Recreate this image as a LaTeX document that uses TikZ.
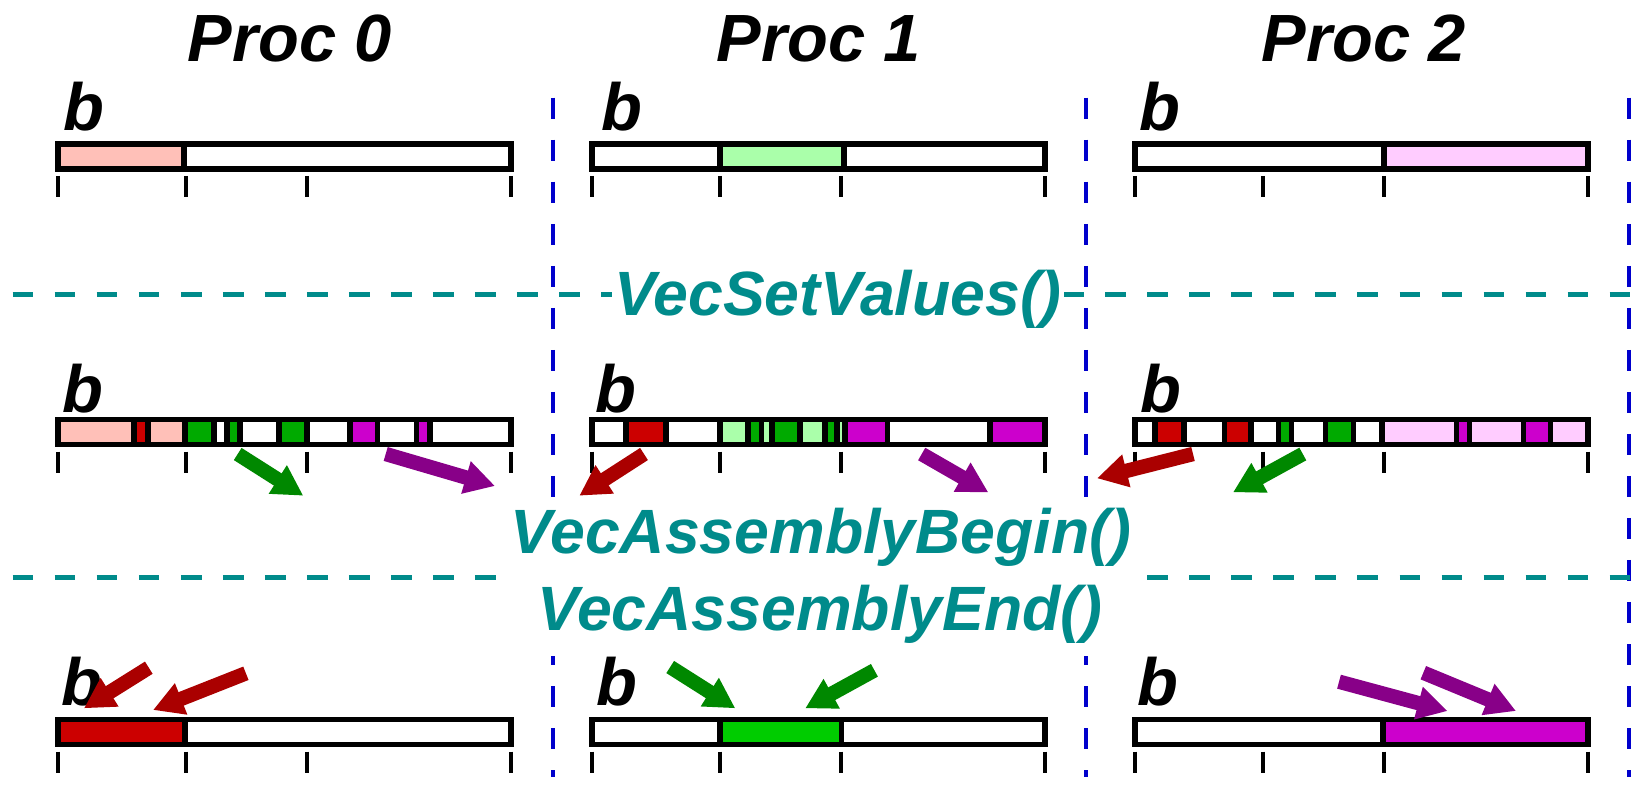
\documentclass[tikz,border=0pt]{standalone}
\usepackage{fontspec}
\setmainfont{Liberation Sans}
\usetikzlibrary{arrows.meta}
\definecolor{pinkC}{HTML}{FFC0B8}
\definecolor{lgreenC}{HTML}{AAFFAA}
\definecolor{lmagC}{HTML}{FFCCFF}
\definecolor{redC}{HTML}{CC0000}
\definecolor{greenC}{HTML}{00AA00}
\definecolor{bgreenC}{HTML}{00CC00}
\definecolor{magC}{HTML}{CC00CC}
\definecolor{redA}{HTML}{AA0000}
\definecolor{greenA}{HTML}{008800}
\definecolor{purpleA}{HTML}{880088}
\definecolor{blueC}{HTML}{0000CC}
\definecolor{tealC}{HTML}{008B8B}
\tikzset{
  cellbox/.style={draw=black, line width=1.5pt, line join=miter},
  tickmark/.style={draw=black, line width=1.2pt},
  blueline/.style={draw=blueC, line width=1.35pt, dash pattern=on 5.975pt off 5.975pt},
  tealline/.style={draw=tealC, line width=1.42pt, dash pattern=on 5.89pt off 6.06pt},
  blk/.style={line width=4.1pt, -{Triangle[length=8.6pt,width=9pt]}},
  redarrow/.style={blk, draw=redA, fill=redA},
  greenarrow/.style={blk, draw=greenA, fill=greenA},
  purplearrow/.style={blk, draw=purpleA, fill=purpleA},
  title/.style={anchor=base, inner sep=0pt, font=\fontsize{19}{22}\selectfont\bfseries\itshape},
  blabel/.style={anchor=base west, inner sep=0pt, font=\fontsize{19}{22}\selectfont\bfseries\itshape},
  calltext/.style={anchor=base, inner xsep=0.5pt, inner ysep=0pt, fill=white, text=tealC,
    font=\fontsize{17.8}{21}\selectfont\bfseries\itshape},
}
\newcommand\vecbar[3]{%
  \foreach \a/\b/\c in {#3}{\draw[cellbox,fill=\c] ({#1+\a},#2) rectangle ({#1+\b},{#2+25});}%
  \foreach \t in {0,128,249,453}{\draw[tickmark] ({#1+\t},{#2+32}) -- ({#1+\t},{#2+53});}%
}
\begin{document}
\begin{tikzpicture}[x=0.01cm,y=-0.01cm]
\useasboundingbox (0,0) rectangle (1637,785);
% separators
\foreach \xx in {553,1086,1629}{\draw[blueline] (\xx,97.7) -- (\xx,777);}
\draw[tealline] (12.7,294.5) -- (1637,294.5);
\draw[tealline] (12.7,577) -- (1637,577);
% call texts
\node[calltext] (vs) at (838,315) {VecSetValues()};
\node[calltext, text height=14pt, text depth=9pt] (vab) at (821,553) {VecAssemblyBegin()};
\node[calltext, text height=13pt, text depth=7.5pt] (vae) at (820,630) {VecAssemblyEnd()};
% titles
\node[title] (t0) at (290,62) {Proc 0};
\node[title] (t1) at (819,62) {Proc 1};
\node[title] (t2) at (1364,62) {Proc 2};
% b labels
\node[blabel] (b10) at (63,131) {b};
\node[blabel] (b11) at (601,131) {b};
\node[blabel] (b12) at (1139,131) {b};
\node[blabel] (b20) at (62,412) {b};
\node[blabel] (b21) at (595,412) {b};
\node[blabel] (b22) at (1140,412) {b};
\node[blabel] (b30) at (61,705) {b};
\node[blabel] (b31) at (596,705) {b};
\node[blabel] (b32) at (1137,705) {b};
% row 1
\vecbar{58}{144}{0/126/pinkC,126/453/white}
\vecbar{592}{144}{0/128/white,128/252/lgreenC,252/453/white}
\vecbar{1135}{144}{0/249/white,249/453/lmagC}
% row 2
\vecbar{58}{419.5}{0/76/pinkC,76/90/redC,90/127/pinkC,127/156/greenC,156/169/white,169/182/greenC,182/221/white,221/249/greenC,249/292/white,292/319.5/magC,319.5/358.5/white,358.5/372/magC,372/453/white}
\vecbar{592}{419.5}{0/34/white,34/74/redC,74/128/white,128/156/lgreenC,156/169.5/greenC,169.5/180/lgreenC,180/208/greenC,208/233/lgreenC,233/245/greenC,245/253/lgreenC,253/295.5/magC,295.5/398/white,398/453/magC}
\vecbar{1135}{419.5}{0/20/white,20/49/redC,49/89.3/white,89.3/116/redC,116/143.6/white,143.6/156.5/greenC,156.5/190.7/white,190.7/218.3/greenC,218.3/246.9/white,246.9/321.2/lmagC,321.2/334.4/magC,334.4/388.5/lmagC,388.5/415.7/magC,415.7/453/lmagC}
% row 3
\vecbar{58}{719.5}{0/127/redC,127/453/white}
\vecbar{592}{719.5}{0/128/white,128/249.5/bgreenC,249.5/453/white}
\vecbar{1135}{719.5}{0/248/white,248/453/magC}
% arrow end points
\coordinate (g1s) at (237.7,454);  \coordinate (g1e) at (303.3,495.7);
\coordinate (p1s) at (385.7,454);  \coordinate (p1e) at (495,486);
\coordinate (r2s) at (644,454);    \coordinate (r2e) at (579.3,495.7);
\coordinate (p2s) at (921.7,454);  \coordinate (p2e) at (988.3,492.3);
\coordinate (r3s) at (1193,454);   \coordinate (r3e) at (1097,478.3);
\coordinate (g3s) at (1302.8,454); \coordinate (g3e) at (1233,492.3);
\coordinate (r4s) at (148.8,667.7); \coordinate (r4e) at (84,708.3);
\coordinate (r5s) at (245.9,673.3); \coordinate (r5e) at (153,710);
\coordinate (g4s) at (670.2,667);   \coordinate (g4e) at (735.3,708.3);
\coordinate (g5s) at (874.4,670.3); \coordinate (g5e) at (805.2,708.3);
\coordinate (p4s) at (1339,681.7);  \coordinate (p4e) at (1447.6,711);
\coordinate (p5s) at (1423.3,672.7);\coordinate (p5e) at (1516,711);
% arrows
\draw[greenarrow] (g1s) -- (g1e);
\draw[purplearrow] (p1s) -- (p1e);
\draw[redarrow] (r2s) -- (r2e);
\draw[purplearrow] (p2s) -- (p2e);
\draw[redarrow] (r3s) -- (r3e);
\draw[greenarrow] (g3s) -- (g3e);
\draw[redarrow] (r4s) -- (r4e);
\draw[redarrow] (r5s) -- (r5e);
\draw[greenarrow] (g4s) -- (g4e);
\draw[greenarrow] (g5s) -- (g5e);
\draw[purplearrow] (p4s) -- (p4e);
\draw[purplearrow] (p5s) -- (p5e);
\end{tikzpicture}
\end{document}
